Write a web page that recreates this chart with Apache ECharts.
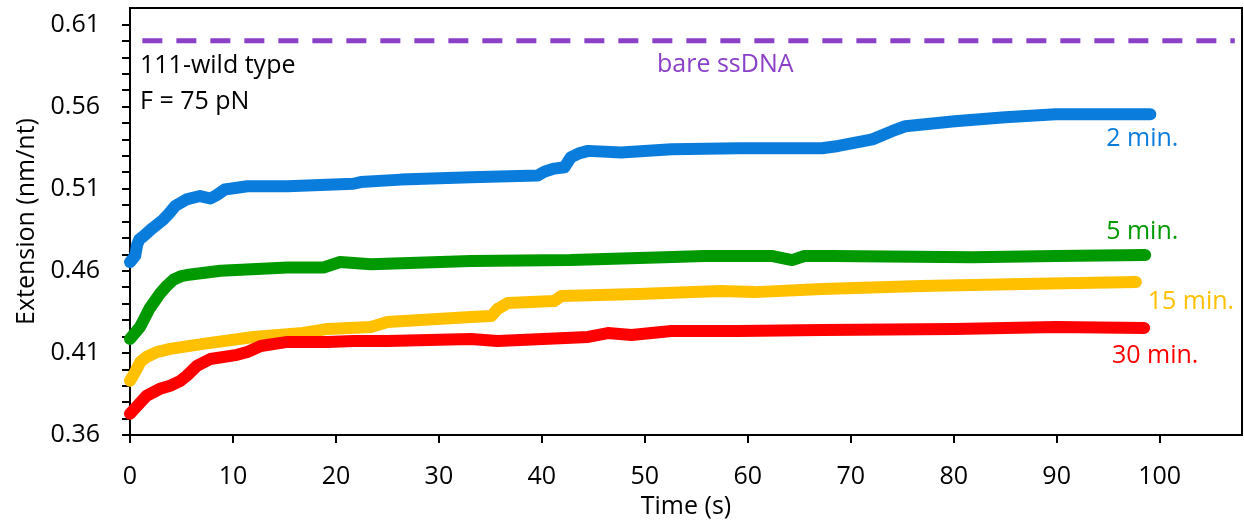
<!DOCTYPE html>
<html>
<head>
<meta charset="utf-8">
<script src="https://cdn.jsdelivr.net/npm/echarts@6/dist/echarts.min.js"></script>
<style>
  html, body { margin: 0; padding: 0; background: #fff; }
  #chart { width: 1244px; height: 525px; }
</style>
</head>
<body>
<div id="chart"></div>
<script>
// time (s), extension (nm/nt)
const min2 = [
  [0, 0.4653], [0.5, 0.469], [0.7, 0.476], [0.9, 0.479], [1.3, 0.481], [2.2, 0.486], [3.2, 0.491],
  [3.8, 0.495], [4.4, 0.4995], [5.5, 0.5035], [6.8, 0.5055], [7.8, 0.504], [8.4, 0.506], [9.2, 0.5095],
  [11.4, 0.5115], [15.3, 0.5115], [21.7, 0.513], [22.4, 0.514], [26.3, 0.5155], [33.1, 0.517],
  [39.6, 0.518], [40.3, 0.5205], [41.2, 0.5222], [42.2, 0.523], [42.8, 0.529], [43.6, 0.5315],
  [44.5, 0.533], [47.7, 0.532], [52.6, 0.534], [59.1, 0.5346], [67.2, 0.5346], [68.8, 0.536],
  [72.1, 0.540], [74.0, 0.545], [75.3, 0.548], [80.1, 0.551], [85.0, 0.5535], [89.9, 0.5553],
  [94.7, 0.5553], [99.1, 0.5553]
];
const min5 = [
  [0, 0.4185], [1.0, 0.426], [1.9, 0.437], [2.9, 0.446], [3.6, 0.451], [4.2, 0.4545], [5.0, 0.4568],
  [5.5, 0.4574], [8.8, 0.460], [15.3, 0.462], [18.8, 0.462], [20.4, 0.4653], [23.4, 0.464],
  [33.1, 0.466], [42.8, 0.4665], [51.9, 0.4683], [55.8, 0.469], [62.3, 0.469], [64.3, 0.4665],
  [65.5, 0.469], [68.2, 0.469], [81.8, 0.4683], [89.9, 0.469], [98.6, 0.4696]
];
const min15 = [
  [0, 0.393], [0.5, 0.3984], [1.0, 0.4045], [1.6, 0.4075], [2.6, 0.4105], [3.9, 0.4124], [7.1, 0.4155],
  [12.0, 0.4197], [16.8, 0.4221], [19.2, 0.4246], [23.4, 0.4258], [25.0, 0.4288], [33.1, 0.4319],
  [35.1, 0.4325], [35.7, 0.4367], [36.7, 0.4404], [41.2, 0.4416], [41.9, 0.4446], [49.4, 0.4458],
  [57.4, 0.4477], [60.7, 0.447], [67.2, 0.4489], [76.9, 0.4507], [86.7, 0.452], [97.7, 0.4531]
];
const min30 = [
  [0, 0.3729], [0.7, 0.3777], [1.6, 0.3838], [2.9, 0.3881], [3.9, 0.390], [4.9, 0.393],
  [5.5, 0.396], [6.5, 0.4021], [7.8, 0.4063], [10.4, 0.4088], [11.4, 0.4106], [12.7, 0.4142],
  [15.3, 0.4167], [19.2, 0.4167], [21.7, 0.4173], [25.0, 0.4173], [33.1, 0.4185], [35.7, 0.4173],
  [44.5, 0.4197], [46.4, 0.4221], [48.7, 0.4209], [52.6, 0.4233], [59.1, 0.4233], [67.2, 0.424],
  [80.1, 0.4246], [89.9, 0.4258], [98.5, 0.4252]
];
const bareSsDNA = [[1.2, 0.6], [107.3, 0.6]];

const xTicks = [0, 10, 20, 30, 40, 50, 60, 70, 80, 90, 100];
const yLabels = [0.36, 0.41, 0.46, 0.51, 0.56, 0.61];
const yMinorTicks = [];
for (let k = 36; k <= 61; k++) yMinorTicks.push(k / 100);

const seriesNames = ['2 min.', '5 min.', '15 min.', '30 min.'];
const seriesColors = ['#0A7CDB', '#009900', '#FFC000', '#FF0000'];
const seriesData = [min2, min5, min15, min30];
// label offset from each curve's last point
const labelOffsets = [[-8, 25], [-3, -23], [55, 20], [11, 28]];

const FONT = 'Open Sans';
const FS = 25;

const chart = echarts.init(document.getElementById('chart'));

const series = seriesData.map((data, i) => {
  const last = data[data.length - 1];
  return {
    name: seriesNames[i],
    type: 'line',
    data: data,
    showSymbol: false,
    silent: true,
    lineStyle: { color: seriesColors[i], width: 12, cap: 'round', join: 'round' },
    markPoint: {
      symbol: 'circle',
      symbolSize: 0,
      silent: true,
      data: [{ coord: last }],
      label: {
        show: true,
        position: 'inside',
        offset: labelOffsets[i],
        formatter: seriesNames[i],
        color: seriesColors[i],
        fontFamily: FONT,
        fontSize: FS
      }
    }
  };
});

series.push({
  name: 'bare ssDNA',
  type: 'line',
  data: bareSsDNA,
  showSymbol: false,
  silent: true,
  lineStyle: { color: '#8B40C8', width: 5, type: [20, 14] }
});

chart.setOption({
  animation: false,
  grid: {
    left: 130, right: 2, top: 8, bottom: 90,
    show: true, borderColor: '#000', borderWidth: 2
  },
  xAxis: {
    type: 'value',
    min: 0,
    max: 108,
    interval: 10,
    name: 'Time (s)',
    nameLocation: 'middle',
    nameGap: 59,
    nameTextStyle: { color: '#000', fontFamily: FONT, fontSize: FS },
    axisLine: { lineStyle: { color: '#000', width: 2 } },
    axisTick: { inside: false, length: 8, customValues: xTicks, lineStyle: { color: '#000', width: 2 } },
    axisLabel: {
      margin: 29, color: '#000', fontFamily: FONT, fontSize: FS,
      customValues: xTicks
    },
    splitLine: { show: false }
  },
  yAxis: {
    type: 'value',
    min: 0.36,
    max: 0.62,
    interval: 0.01,
    name: 'Extension (nm/nt)',
    nameLocation: 'middle',
    nameGap: 90,
    nameTextStyle: { color: '#000', fontFamily: FONT, fontSize: FS },
    axisLine: { show: true, lineStyle: { color: '#000', width: 2 } },
    axisTick: { show: true, inside: false, length: 8, customValues: yMinorTicks, lineStyle: { color: '#000', width: 2 } },
    axisLabel: {
      margin: 30, color: '#000', fontFamily: FONT, fontSize: FS,
      customValues: yLabels,
      formatter: v => v.toFixed(2)
    },
    splitLine: { show: false }
  },
  graphic: [
    { type: 'text', left: 140, top: 53, style: { text: '111-wild type', fill: '#000', font: FS + 'px "Open Sans"' } },
    { type: 'text', left: 140, top: 89, style: { text: 'F = 75 pN', fill: '#000', font: FS + 'px "Open Sans"' } },
    { type: 'text', left: 657, top: 52, style: { text: 'bare ssDNA', fill: '#8B40C8', font: FS + 'px "Open Sans"' } }
  ],
  series: series
});
</script>
</body>
</html>
